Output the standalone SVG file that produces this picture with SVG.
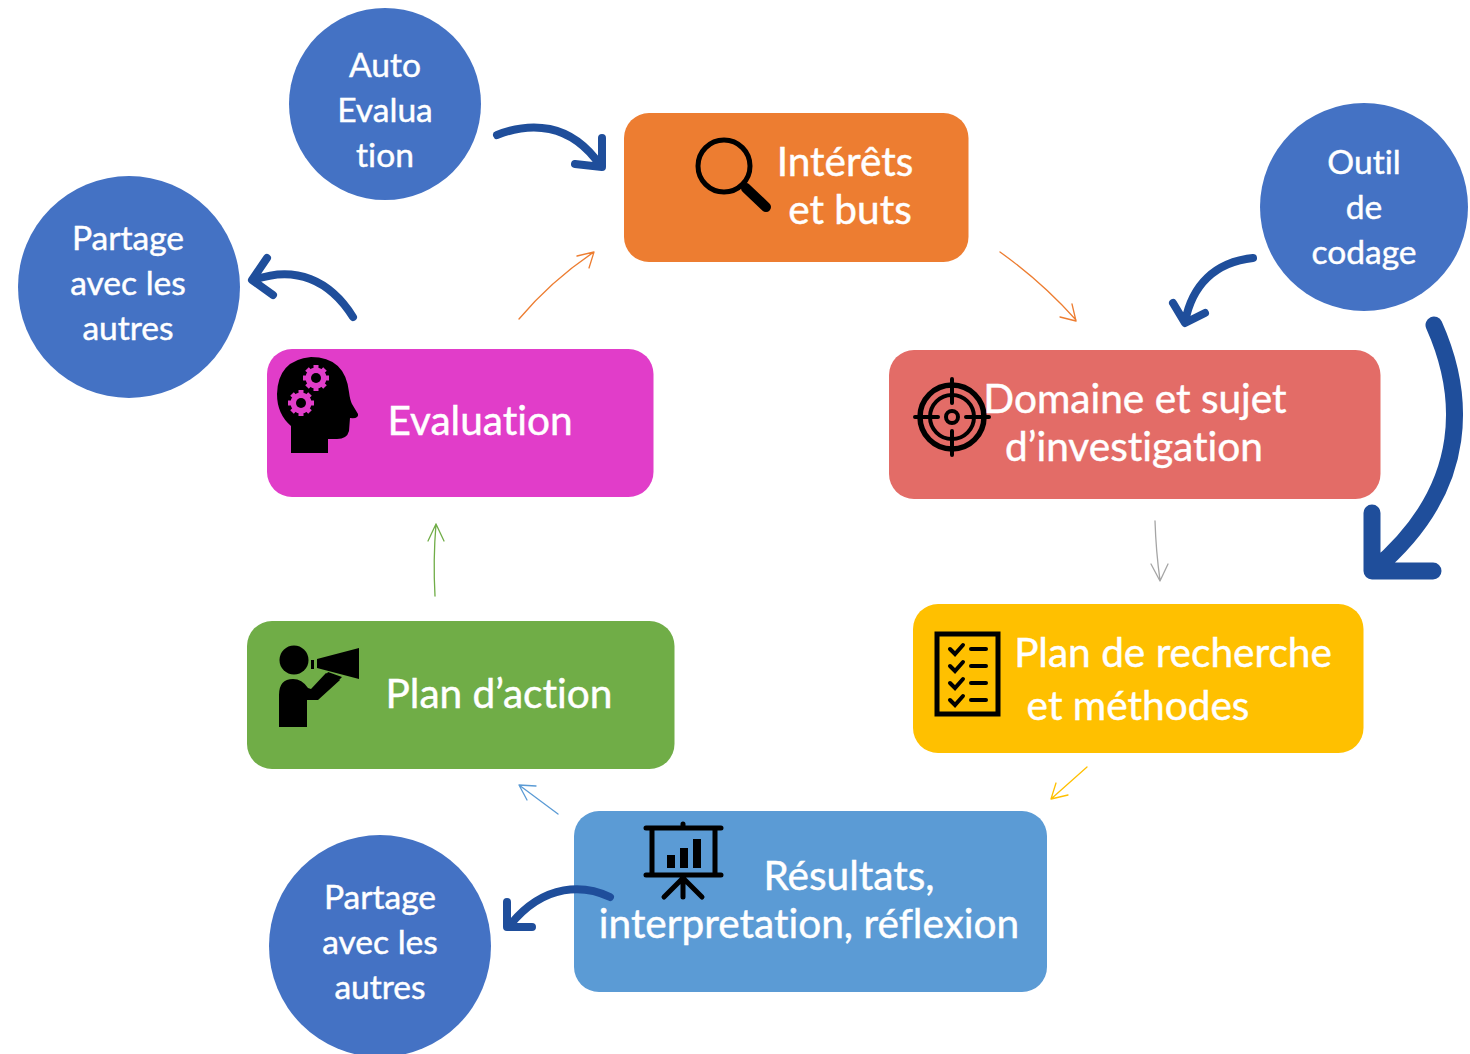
<svg xmlns="http://www.w3.org/2000/svg" width="1470" height="1054" viewBox="0 0 1470 1054">
<style>
text{font-family:Lato,"Open Sans","Liberation Sans",sans-serif;fill:#fff;text-anchor:middle;stroke:#fff;stroke-width:.45;font-variant-ligatures:none}
.b{font-size:40.6px}
.c{font-size:33.6px}
.thin{fill:none;stroke-width:1.3;stroke-linecap:round;stroke-linejoin:round}
.fat{fill:none;stroke:#1F4E9B;stroke-linecap:round;stroke-linejoin:round}
.circle{fill:#4472C4}
.ico{fill:none;stroke:#000;stroke-linecap:round}
</style>
<rect width="1470" height="1054" fill="#fff"/>
<g id="node-interets">
<rect x="624" y="113" width="344.500" height="149" rx="25" fill="#ED7D31"/>
<circle cx="724" cy="166" r="26" fill="none" stroke="#000" stroke-width="5"/>
<path d="M746 188L766 207" stroke="#000" stroke-width="10" stroke-linecap="round"/>
<text class="b" x="845" y="175.500">Intérêts</text>
<text class="b" x="850" y="223.500">et buts</text>
</g>
<g id="node-domaine">
<rect x="889" y="350" width="491.500" height="149" rx="25" fill="#E36C67"/>
<g class="ico" stroke-width="4">
<circle cx="952" cy="417" r="32" stroke-width="5.500"/>
<circle cx="952" cy="417" r="22"/>
<circle cx="952" cy="417" r="6"/>
<path d="M952 379V403M952 431V455M915 417H938M966 417H989"/>
</g>
<text class="b" x="1135" y="412.500">Domaine et sujet</text>
<text class="b" x="1134" y="460.500">d’investigation</text>
</g>
<g id="node-plan-recherche">
<rect x="913" y="604" width="450.500" height="149" rx="25" fill="#FFC000"/>
<rect x="937" y="634" width="61" height="80" fill="none" stroke="#000" stroke-width="5"/>
<path class="ico" stroke-width="4" d="M950 649L955 654L963 645M950 666L955 671L963 662M950 683L955 688L963 679M950 700L955 705L963 696M971 649H986M971 666H986M971 683H986M971 700H986"/>
<text class="b" x="1173" y="666.500">Plan de recherche</text>
<text class="b" x="1138" y="719.500">et méthodes</text>
</g>
<g id="node-resultats">
<rect x="574" y="811" width="473" height="181" rx="25" fill="#5B9BD5"/>
<g class="ico">
<path d="M646 828H721M646 875H721M652 828V875M715 828V875M683 824V828M683 875V897M683 878L664 897M683 878L702 897" stroke-width="5"/>
</g>
<rect x="667" y="855" width="8" height="13"/><rect x="680" y="848" width="8" height="20"/><rect x="693" y="839" width="8" height="29"/>
<text class="b" x="849" y="889.500">Résultats,</text>
<text class="b" x="809" y="937.500">interpretation, réflexion</text>
</g>
<g id="node-plan-action">
<rect x="247" y="621" width="427.500" height="148" rx="25" fill="#70AD47"/>
<circle cx="294" cy="660" r="14.500"/>
<path d="M279 727V695Q279 679 293 679Q302 679 308 688L311 689L326 673L340 680L318 700L307 700V727Z"/>
<path d="M311 660H314V669H311ZM317 659L359 648V679L317 668ZM328 672L342 677L339 680L326 675Z"/>
<text class="b" x="499" y="707.500">Plan d’action</text>
</g>
<g id="node-evaluation">
<rect x="267" y="349" width="386.500" height="148" rx="25" fill="#E13DC9"/>
<path d="M291 453V426Q277 414 277 394Q278 360 311 357Q345 357 349 392Q350 400 352 404L358 414Q359 419 350 418L349 431Q347 439 337 439H328V453Z"/>
<g fill="#E13DC9">
<circle cx="316" cy="378" r="10.500"/><circle cx="301" cy="403" r="10.500"/>
<path d="M316 365V391M303 378H329M307 369L325 387M325 369L307 387M301 390V416M288 403H314M292 394L310 412M310 394L292 412" stroke="#E13DC9" stroke-width="5"/>
</g>
<circle cx="316" cy="378" r="5"/><circle cx="301" cy="403" r="5"/>
<text class="b" x="480" y="434.500">Evaluation</text>
</g>
<g id="node-auto">
<circle class="circle" cx="385" cy="104" r="96"/>
<text class="c" x="385" y="77">Auto</text><text class="c" x="385" y="121.500">Evalua</text><text class="c" x="385" y="166.500">tion</text>
</g>
<g id="node-partage-1">
<circle class="circle" cx="129" cy="287" r="111"/>
<text class="c" x="128" y="250">Partage</text><text class="c" x="128" y="295">avec les</text><text class="c" x="128" y="340">autres</text>
</g>
<g id="node-partage-2">
<circle class="circle" cx="380" cy="946" r="111"/>
<text class="c" x="380" y="909">Partage</text><text class="c" x="380" y="954">avec les</text><text class="c" x="380" y="999">autres</text>
</g>
<g id="node-outil">
<circle class="circle" cx="1364" cy="207" r="104"/>
<text class="c" x="1364" y="174">Outil</text><text class="c" x="1364" y="219">de</text><text class="c" x="1364" y="264">codage</text>
</g>
<g id="connectors">
<path class="thin" stroke="#ED7D31" d="M1000 252Q1042 282 1076 320M1060 317L1076 321L1072 304"/>
<path class="thin" stroke="#A5A5A5" d="M1155 521Q1156 552 1160 580M1151 564L1160 581L1168 564"/>
<path class="thin" stroke="#FFC000" d="M1087 767L1051 799M1056 783L1051 799L1068 795"/>
<path class="thin" stroke="#5B9BD5" d="M558 814L519 785M536 786L519 785L527 800"/>
<path class="thin" stroke="#70AD47" d="M435 596Q433 560 436 524M428 541L436 524L444 541"/>
<path class="thin" stroke="#ED7D31" d="M519 319Q552 280 594 252M577 256L594 252L589 268"/>
<path class="fat" stroke-width="8" d="M497 135C530 122 570 122 600 165M602 138L602 167L575 164"/>
<path class="fat" stroke-width="8" d="M353 317C330 280 295 265 254 280M267 258L252 280L273 295"/>
<path class="fat" stroke-width="8" d="M1253 258C1215 262 1192 285 1185 322M1173 303L1185 323L1205 313"/>
<path class="fat" stroke-width="17" d="M1434 325C1463 390 1475 485 1374 570M1372 513L1372 571L1433 571"/>
<path class="fat" stroke-width="8" d="M610 897C585 885 545 882 510 925M507 902L507 927L532 927"/>
</g>
</svg>
